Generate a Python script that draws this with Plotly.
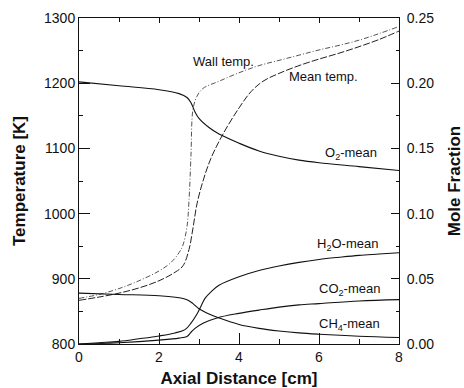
import plotly.graph_objects as go

# Axial positions [cm] and temperatures [K]
wall_x = [0, 0.5, 1, 1.5, 2, 2.3, 2.5, 2.6, 2.7, 2.75, 2.8, 2.85, 2.95, 3.1, 3.5, 4, 4.5, 5, 5.5, 6, 6.5, 7, 7.5, 8]
wall_T = [870, 876, 885, 897, 912, 925, 940, 952, 980, 1020, 1090, 1160, 1180, 1192, 1203, 1216, 1227, 1235, 1243, 1251, 1258, 1266, 1276, 1287]

mean_x = [0, 0.5, 1, 1.5, 2, 2.4, 2.6, 2.75, 2.85, 2.95, 3.1, 3.3, 3.6, 4, 4.3, 4.6, 5, 5.5, 6, 6.5, 7, 7.5, 8]
mean_T = [867, 872, 878, 886, 897, 910, 920, 945, 978, 1015, 1050, 1085, 1122, 1162, 1187, 1203, 1215, 1227, 1237, 1246, 1256, 1267, 1280]

# Species mole fractions
o2_x = [0, 1, 2, 2.5, 2.7, 2.8, 2.9, 3.0, 3.25, 3.5, 4, 4.5, 5, 5.5, 6, 7, 8]
o2_f = [0.201, 0.198, 0.195, 0.192, 0.189, 0.185, 0.178, 0.173, 0.166, 0.161, 0.154, 0.148, 0.144, 0.141, 0.139, 0.136, 0.133]

h2o_x = [0, 0.5, 1, 1.5, 2, 2.4, 2.65, 2.8, 2.95, 3.05, 3.15, 3.3, 3.5, 4, 4.5, 5, 5.5, 6, 6.5, 7, 7.5, 8]
h2o_f = [0.0, 0.001, 0.002, 0.004, 0.0062, 0.0085, 0.011, 0.016, 0.023, 0.029, 0.035, 0.040, 0.045, 0.0515, 0.0563, 0.0598, 0.0626, 0.0648, 0.0665, 0.068, 0.069, 0.070]

co2_x = [0, 1, 2, 2.5, 2.7, 2.8, 2.9, 3.1, 3.45, 4, 4.5, 5, 5.5, 6, 7, 8]
co2_f = [0.0, 0.001, 0.003, 0.0045, 0.0058, 0.009, 0.012, 0.016, 0.020, 0.0235, 0.026, 0.0283, 0.030, 0.031, 0.033, 0.034]

ch4_x = [0, 1, 2, 2.5, 2.7, 2.85, 3.0, 3.25, 3.5, 4, 4.5, 5, 5.5, 6, 7, 8]
ch4_f = [0.039, 0.038, 0.037, 0.0355, 0.034, 0.031, 0.027, 0.023, 0.020, 0.015, 0.012, 0.010, 0.0085, 0.0075, 0.006, 0.005]

FONT = "Liberation Sans, Arial, Helvetica, sans-serif"
INK = "#111111"

fig = go.Figure()

fig.add_trace(go.Scatter(x=wall_x, y=wall_T, mode="lines", line_shape="spline",
                         line=dict(color="#555555", width=1, dash="5px,2px,1px,2px"),
                         yaxis="y", xaxis="x", showlegend=False))
fig.add_trace(go.Scatter(x=mean_x, y=mean_T, mode="lines", line_shape="spline",
                         line=dict(color="#222222", width=1, dash="7px,2px"),
                         yaxis="y", xaxis="x", showlegend=False))

for xs, ys in [(o2_x, o2_f), (h2o_x, h2o_f), (co2_x, co2_f), (ch4_x, ch4_f)]:
    fig.add_trace(go.Scatter(x=xs, y=ys, mode="lines", line_shape="spline",
                             line=dict(color=INK, width=1.1),
                             yaxis="y2", xaxis="x", showlegend=False))

# Curve labels
labels = [
    ("Wall temp.", 3.6, 1233, "y"),
    ("Mean temp.", 6.1, 1210, "y"),
    ("O<sub>2</sub>-mean", 6.8, 0.146, "y2"),
    ("H<sub>2</sub>O-mean", 6.7, 0.076, "y2"),
    ("CO<sub>2</sub>-mean", 6.75, 0.042, "y2"),
    ("CH<sub>4</sub>-mean", 6.75, 0.015, "y2"),
]
for text, x, y, yref in labels:
    fig.add_annotation(text=text, x=x, y=y, xref="x", yref=yref, showarrow=False,
                       font=dict(family=FONT, size=13, color=INK))

tick_font = dict(family=FONT, size=14, color=INK)
title_font = dict(family=FONT, size=17, color=INK)

fig.update_layout(
    width=464, height=388,
    margin=dict(l=79, r=65, t=18, b=44, autoexpand=False),
    paper_bgcolor="white", plot_bgcolor="white",
    xaxis=dict(range=[0, 8], tick0=0, dtick=2, ticks="inside", ticklen=11, tickcolor=INK,
               minor=dict(ticks="inside", dtick=1, ticklen=5, tickcolor=INK),
               showline=True, linecolor=INK, linewidth=1, showgrid=False, zeroline=False,
               tickfont=tick_font,
               title=dict(text="<b>Axial Distance [cm]</b>", font=title_font, standoff=9)),
    xaxis2=dict(range=[0, 8], tick0=0, dtick=2, ticks="inside", ticklen=5, tickcolor=INK,
                minor=dict(ticks="inside", dtick=1, ticklen=4, tickcolor=INK),
                overlaying="x", side="top", showticklabels=False,
                showline=True, linecolor=INK, linewidth=1, showgrid=False, zeroline=False),
    yaxis=dict(range=[800, 1300], tick0=800, dtick=100, ticks="inside", ticklen=11, tickcolor=INK,
               minor=dict(ticks="inside", dtick=50, ticklen=4, tickcolor=INK),
               showline=True, linecolor=INK, linewidth=1, showgrid=False, zeroline=False,
               tickfont=tick_font,
               title=dict(text="<b>Temperature [K]</b>", font=title_font, standoff=14)),
    yaxis2=dict(range=[0, 0.25], tick0=0, dtick=0.05, ticks="inside", ticklen=8, tickcolor=INK,
                minor=dict(ticks="inside", dtick=0.025, ticklen=3, tickcolor=INK),
                overlaying="y", side="right", tickformat=".2f", ticklabelstandoff=4,
                showline=True, linecolor=INK, linewidth=1, showgrid=False, zeroline=False,
                tickfont=tick_font,
                title=dict(text="<b>Mole Fraction</b>", font=title_font, standoff=14)),
)

# Invisible trace to activate the top axis
fig.add_trace(go.Scatter(x=[0, 8], y=[800, 800], mode="lines", line=dict(width=0),
                         xaxis="x2", yaxis="y", showlegend=False, hoverinfo="skip"))

fig.write_html("out.html")
